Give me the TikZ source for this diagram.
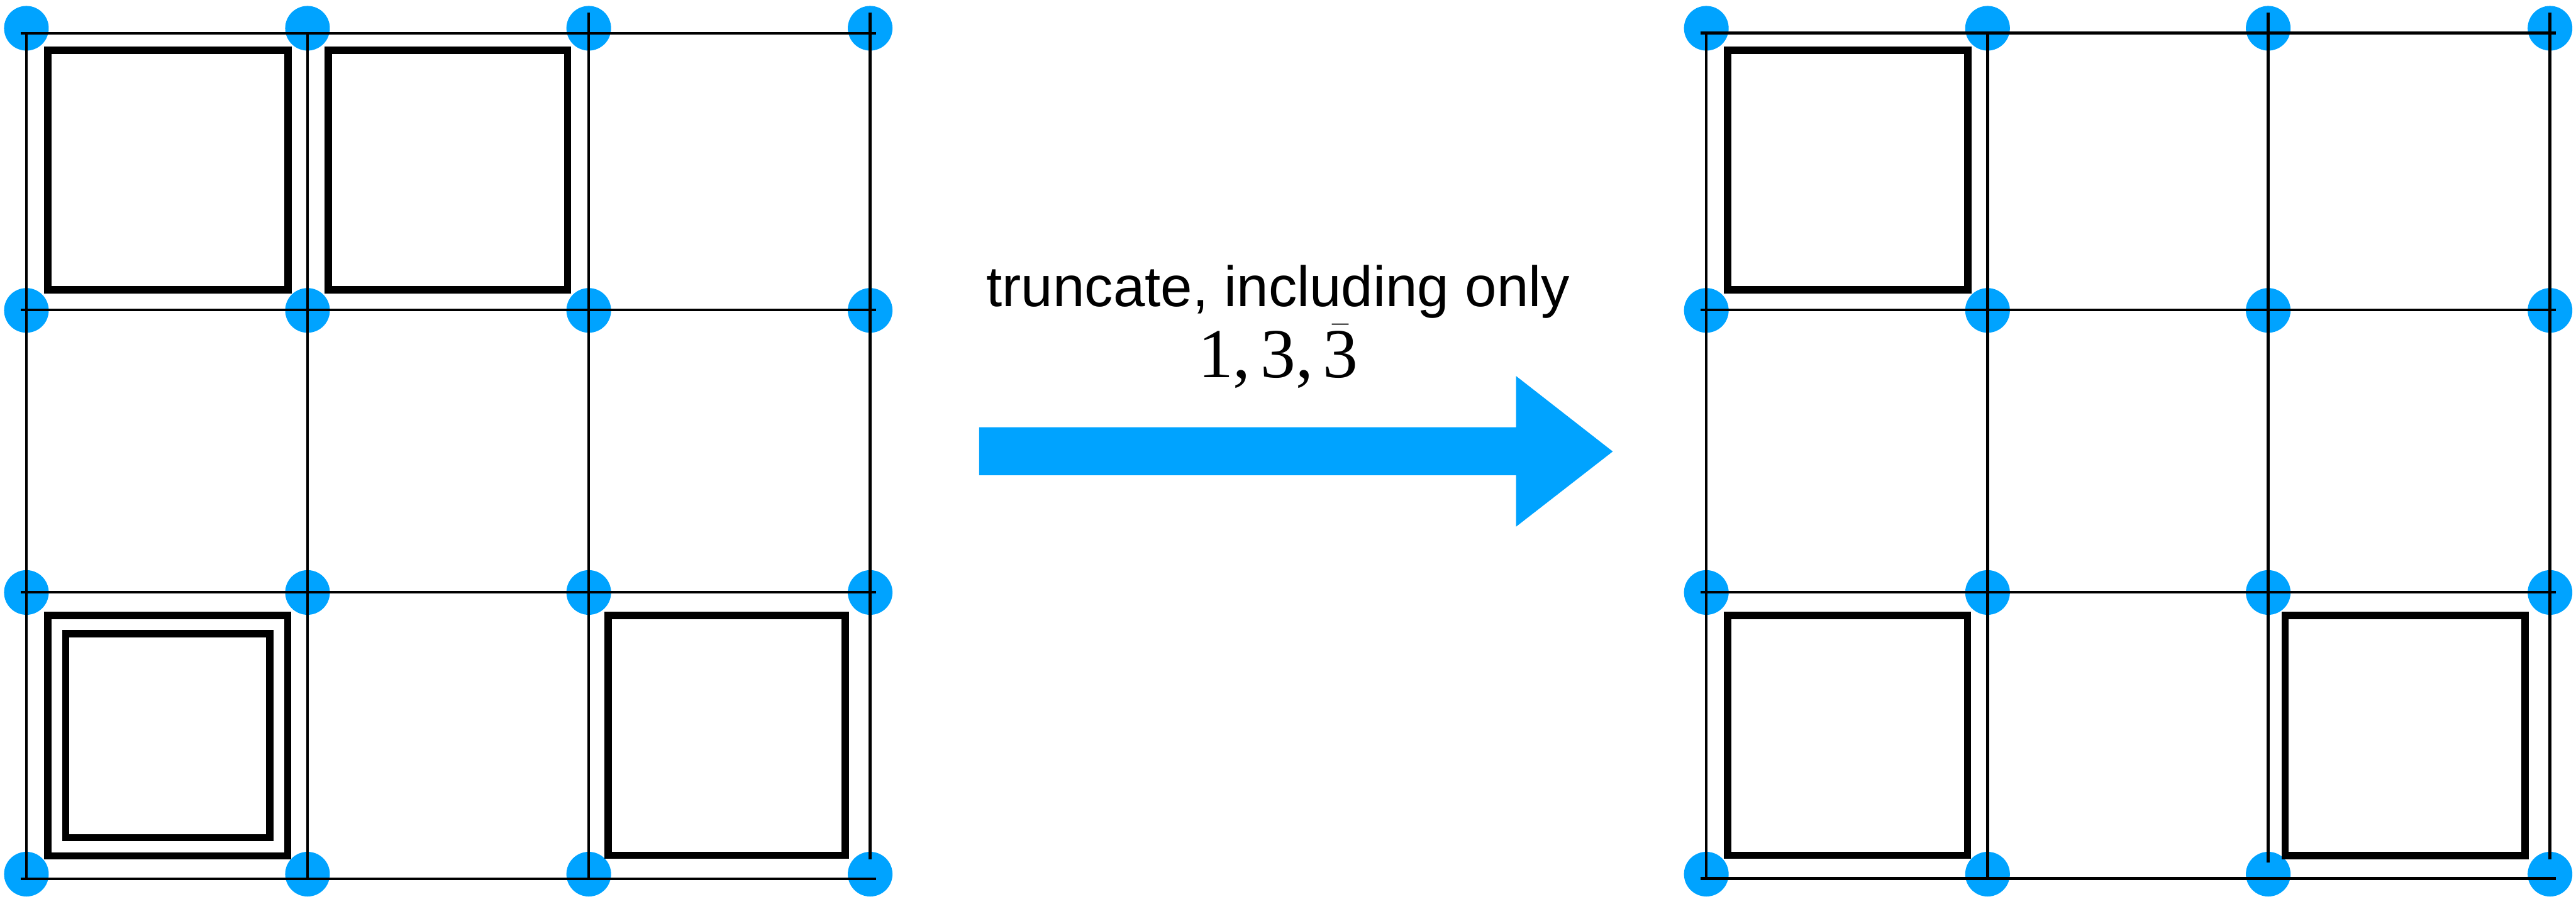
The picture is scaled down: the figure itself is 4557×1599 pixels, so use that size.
\documentclass[tikz,border=0pt]{standalone}
\usepackage{fontspec}
\setmainfont{Liberation Sans}
\newfontfamily\digitfont{Liberation Serif}
\definecolor{dotblue}{RGB}{0,163,255}
\begin{document}
\begin{tikzpicture}[x=0.01cm,y=-0.01cm,
  gridline/.style={line width=0.05cm},
  cellbox/.style={line width=0.13cm},
  vertex/.style={circle,fill=dotblue,draw=none,inner sep=0pt,minimum size=0.79cm}]
\useasboundingbox (0,0) rectangle (4557,1599);

% ---- vertices of the two lattices ----
\foreach \i/\x in {0/46.7,1/544,2/1041.5,3/1539.3}
  \foreach \j/\y in {0/50,1/549.3,2/1048.5,3/1547}
    \node[vertex] (L\i\j) at (\x,\y) {};
\foreach \i/\x in {0/3018.5,1/3516,2/4012.5,3/4511}
  \foreach \j/\y in {0/50,1/549.3,2/1048.5,3/1547}
    \node[vertex] (R\i\j) at (\x,\y) {};

% ---- left lattice: grid lines ----
\foreach \y in {58.7,548.7,1048,1555.3}
  \draw[gridline] (36.7,\y) -- (1549.3,\y);
\draw[gridline] (46.7,58.7) -- (46.7,1555.3);
\draw[gridline] (544,58.7) -- (544,1555.3);
\draw[gridline] (1041.5,22) -- (1041.5,1555.3);
\draw[gridline] (1539,22) -- (1539,1521);

% ---- left lattice: plaquettes ----
\draw[cellbox] (84.2,89.2) rectangle (509.2,513);
\draw[cellbox] (580.5,89.2) rectangle (1004,513);
\draw[cellbox] (84.2,1089.5) rectangle (509,1514.7);
\draw[cellbox] (116.3,1121.7) rectangle (477.2,1482.5);
\draw[cellbox] (1076,1089.5) rectangle (1495.2,1513.5);

% ---- right lattice: grid lines ----
\foreach \y in {58.5,548.7,1048,1555}
  \draw[gridline] (3008.5,\y) -- (4521,\y);
\draw[gridline] (3018.5,58.5) -- (3018.5,1555);
\draw[gridline] (3516,58.5) -- (3516,1555);
\draw[gridline] (4012.3,22) -- (4012.3,1526);
\draw[gridline] (4510.8,22) -- (4510.8,1521);

% ---- right lattice: plaquettes ----
\draw[cellbox] (3056,89) rectangle (3481,513);
\draw[cellbox] (3056.5,1089.5) rectangle (3480.5,1513.5);
\draw[cellbox] (4042.5,1089.5) rectangle (4467,1514.5);

% ---- map between the two lattices ----
\fill[dotblue] (1732,756) -- (2682,756) -- (2682,665.5) -- (2853,799)
  -- (2682,932) -- (2682,841) -- (1732,841) -- cycle;
\node[anchor=base,inner sep=0pt,text depth=0pt,font=\fontsize{28.7pt}{34pt}\selectfont]
  (caption) at (2261,542.8) {truncate, including only};
\node[anchor=base,inner sep=0pt,font=\digitfont\fontsize{35.3pt}{42pt}\selectfont]
  (reps) at (2261,668) {1,\kern.14em 3,\kern.14em $\smash{\bar{\hbox{3}}}$};
\end{tikzpicture}
\end{document}
